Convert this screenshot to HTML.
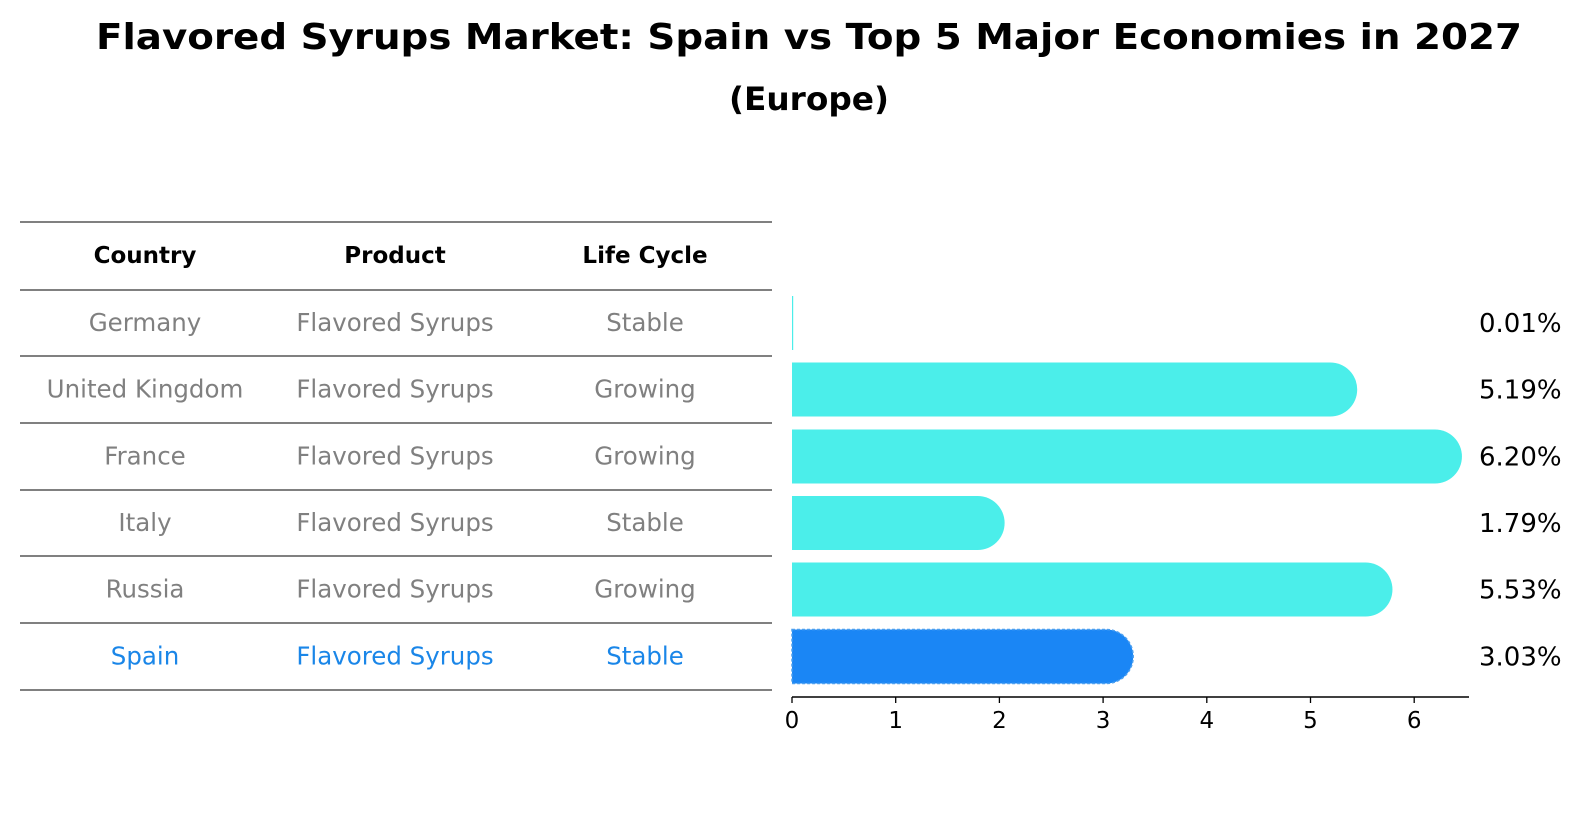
<!DOCTYPE html>
<html><head><meta charset="utf-8"><style>
body{margin:0;background:#fff;width:1586px;height:823px;overflow:hidden;font-family:"DejaVu Sans","Liberation Sans",sans-serif;}
</style></head><body>
<svg width="1586" height="823" xmlns="http://www.w3.org/2000/svg">
<text x="809" y="49" text-anchor="middle" font-size="36" font-weight="bold" textLength="1426" lengthAdjust="spacingAndGlyphs">Flavored Syrups Market: Spain vs Top 5 Major Economies in 2027</text>
<text x="809" y="110" text-anchor="middle" font-size="32" font-weight="bold" textLength="160" lengthAdjust="spacingAndGlyphs">(Europe)</text>
<g id="table"></g>
<g id="bars"></g>
</svg>
<script>
const countries=["Germany","United Kingdom","France","Italy","Russia","Spain"];
const products=["Flavored Syrups","Flavored Syrups","Flavored Syrups","Flavored Syrups","Flavored Syrups","Flavored Syrups"];
const lifeCycles=["Stable","Growing","Growing","Stable","Growing","Stable"];
const values=[0.01,5.19,6.20,1.79,5.53,3.03];
const valueLabels=["0.01%","5.19%","6.20%","1.79%","5.53%","3.03%"];
const ticks=[0,1,2,3,4,5,6];
const NS="http://www.w3.org/2000/svg";
function mk(t,a,p){const e=document.createElementNS(NS,t);for(const k in a)e.setAttribute(k,a[k]);p.appendChild(e);return e;}
const tbl=document.getElementById('table'),bars=document.getElementById('bars');
const lines=[222,290,356,423,490,556,623,690];
lines.forEach(y=>{const l=mk('line',{x1:20,x2:772,y1:y,y2:y,stroke:'#000','stroke-width':1},tbl);

});
const colX=[145,395,645];
["Country","Product","Life Cycle"].forEach((h,i)=>{const t=mk('text',{x:colX[i],y:263,'text-anchor':'middle','font-size':23,'font-weight':'bold'},tbl);t.textContent=h;

});
function rowY(i){return (lines[i+1]+lines[i+2])/2;}
countries.forEach((c,i)=>{const col=i==5?'#1a86e8':'#808080';
[c,products[i],lifeCycles[i]].forEach((v,j)=>{const t=mk('text',{x:colX[j],y:rowY(i)+8,'text-anchor':'middle','font-size':24.5,fill:col},tbl);t.textContent=v;

});});
const x0=792,unit=103.7,h=54,r=27;
function xs(v){return x0+v*unit;}
values.forEach((v,i)=>{const cy=rowY(i),top=cy-h/2,xe=xs(v);const w=xe-x0;
let d;
if(w<2){d=`M${x0},${top}h${Math.max(w,1.2)}v${h}h${-Math.max(w,1.2)}z`;}
else d=`M${x0},${top}H${xe}A${r},${r} 0 0 1 ${xe},${top+h}H${x0}Z`;
const sp=i==5;
const p=mk('path',{d:d,fill:sp?'#1a86f5':'#4beeea',stroke:sp?'#4a9ff0':'none','stroke-width':sp?1.5:0,'stroke-dasharray':sp?'3,2':''},bars);


const t=mk('text',{x:1479,y:cy+9,'font-size':26},bars);t.textContent=valueLabels[i];

});
const ax=mk('line',{x1:x0,x2:1469,y1:697,y2:697,stroke:'#000','stroke-width':1.5},bars);


ticks.forEach(t=>{const l=mk('line',{x1:xs(t),x2:xs(t),y1:697,y2:703,stroke:'#000','stroke-width':1.3},bars);


const tx=mk('text',{x:xs(t),y:728,'text-anchor':'middle','font-size':23},bars);tx.textContent=t;

});
</script>
</body></html>
